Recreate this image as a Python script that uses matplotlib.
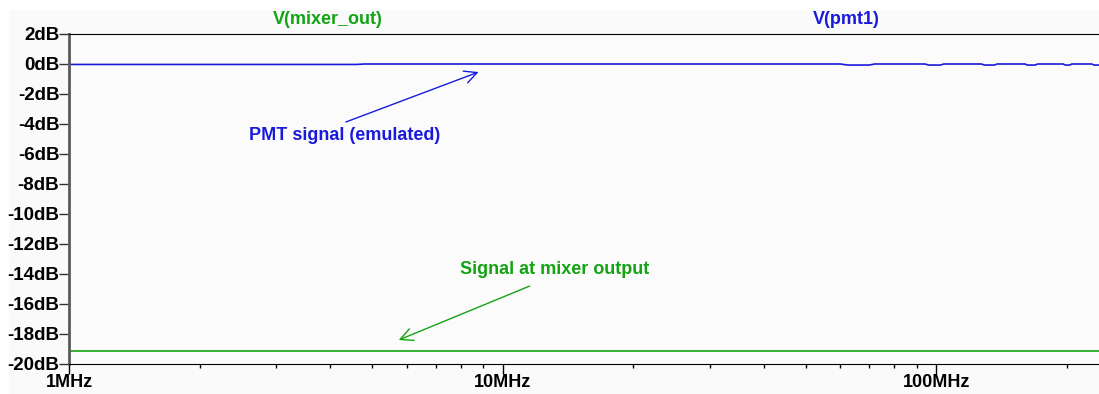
import numpy as np
import matplotlib.pyplot as plt
from matplotlib.ticker import FixedLocator, LogLocator, NullFormatter

# Frequency response (AC sweep), frequencies in Hz, magnitude in dB
freq_pmt = [1e6, 4.6e6, 4.8e6, 60e6, 62.5e6, 64e6, 70e6, 72e6, 94e6, 96e6, 102e6, 104e6,
            127e6, 129e6, 136e6, 138e6, 160e6, 162e6, 169e6, 171e6, 196e6, 198e6,
            203e6, 205e6, 228e6, 231e6, 2.37e8]
db_pmt = [-0.03, -0.03, 0.0, 0.0, -0.07, -0.07, -0.07, 0.0, 0.0, -0.07, -0.07, 0.0,
          0.0, -0.07, -0.07, 0.0, 0.0, -0.07, -0.07, 0.0, 0.0, -0.07,
          -0.07, 0.0, 0.0, -0.07, -0.07]

freq_mix = [1e6, 1e7, 1e8, 2.37e8]
db_mix = [-19.12, -19.12, -19.12, -19.12]

y_ticks = list(range(2, -21, -2))
x_ticks = [1e6, 1e7, 1e8]
x_labels = ['1MHz', '10MHz', '100MHz']

blue = '#1a1adc'
green = '#13a313'

plt.rcParams['font.family'] = ['Liberation Sans', 'DejaVu Sans']
plt.rcParams['font.weight'] = 'bold'

fig = plt.figure(figsize=(10.99, 3.94), dpi=100, facecolor='#fafafa')
# white margin along the top and left edge of the window
fig.patches.append(plt.Rectangle((0, 1 - 9 / 394), 1, 9 / 394, transform=fig.transFigure,
                                 color='white', zorder=-1))
fig.patches.append(plt.Rectangle((0, 0), 8 / 1099, 1, transform=fig.transFigure,
                                 color='white', zorder=-1))

ax = fig.add_axes([69 / 1099, 30 / 394, 1 - 69 / 1099, 330 / 394])
ax.set_facecolor('#fbfbfb')

ax.plot(freq_pmt, db_pmt, color=blue, lw=1.2)
ax.plot(freq_mix, db_mix, color=green, lw=1.2)

ax.set_xscale('log')
ax.set_xlim(1e6, 2.37e8)
ax.set_ylim(-20, 2)

ax.xaxis.set_major_locator(FixedLocator(x_ticks))
ax.set_xticklabels(x_labels)
ax.xaxis.set_minor_locator(LogLocator(base=10, subs=np.arange(2, 10)))
ax.xaxis.set_minor_formatter(NullFormatter())
ax.set_yticks(y_ticks)
ax.set_yticklabels([f'{v}dB' for v in y_ticks])

ax.tick_params(axis='y', direction='out', length=7, width=1, labelsize=13.5, pad=0, color='#333333')
ax.tick_params(axis='x', which='major', direction='out', length=7, width=1, labelsize=13, pad=0)
ax.tick_params(axis='x', which='minor', direction='out', length=3, width=1)

ax.spines['right'].set_visible(False)
ax.spines['left'].set_color('#5a5a5a')
ax.spines['left'].set_linewidth(2)
ax.spines['top'].set_color('black')
ax.spines['bottom'].set_color('black')

# trace names above the plot
fig.text(328 / 1099, 1 - 19 / 394, 'V(mixer_out)', color=green, fontsize=13, ha='center', va='center')
fig.text(846 / 1099, 1 - 19 / 394, 'V(pmt1)', color=blue, fontsize=13, ha='center', va='center')

# annotations with open arrowheads
ax.text(4.31e6, -4.8, 'PMT signal (emulated)', color=blue, fontsize=13, ha='center', va='center')
ax.annotate('', xy=(8.92e6, -0.47), xytext=(4.29e6, -3.93),
            arrowprops=dict(arrowstyle='->,head_length=0.9,head_width=0.45', color=blue, lw=1))
ax.text(13.2e6, -13.73, 'Signal at mixer output', color=green, fontsize=13, ha='center', va='center')
ax.annotate('', xy=(5.68e6, -18.47), xytext=(11.7e6, -14.73),
            arrowprops=dict(arrowstyle='->,head_length=0.9,head_width=0.45', color=green, lw=1))

fig.savefig('out.png', dpi=100, facecolor=fig.get_facecolor())
